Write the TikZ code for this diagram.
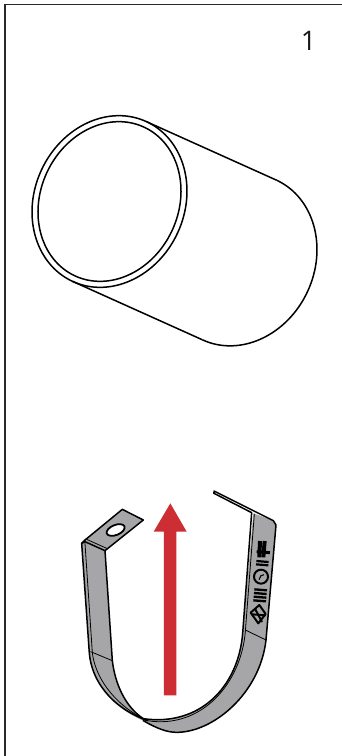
\documentclass[tikz,border=0pt]{standalone}
\usepackage{fontspec}
\setmainfont{Open Sans}
\definecolor{strapgray}{RGB}{166,166,168}
\definecolor{arrowred}{RGB}{204,46,52}
\definecolor{framegray}{RGB}{40,40,40}
\tikzset{
  pipeline/.style={draw=black,line width=1.5pt},
  strapline/.style={draw=black,line width=1.5pt,line join=round,line cap=round},
  thinline/.style={draw=black,line width=.8pt,line join=round,line cap=round},
  markline/.style={draw=black,line cap=butt},
  zoomed/.style={x=0.33333pt,y=-0.33333pt}
}
\begin{document}
\begin{tikzpicture}[x=1pt,y=-1pt]
\useasboundingbox (0,0) rectangle (342,756);
% frame
\draw[framegray,line width=1.9pt] (5.2,756) -- (5.2,4.5) -- (342,4.5);
\node[font=\fontsize{27}{27}\selectfont,text=black!90,inner sep=0pt] (num) at (308.5,41) {1};
% pipe: both ellipses share the same axes, so the side lines meet them on their major axis
\begin{scope}[shift={(239.5,260)},rotate=65]
\coordinate (pc) at (88pt,0pt);
\coordinate (pd) at (-88pt,0pt);
\draw[pipeline] (pc) arc[start angle=0,end angle=-180,x radius=88pt,y radius=75pt];
\end{scope}
\begin{scope}[shift={(109.5,201.5)},rotate=65]
\coordinate (pa) at (88pt,0pt);
\coordinate (pb) at (-88pt,0pt);
\draw[pipeline] (0pt,0pt) ellipse[x radius=88pt,y radius=75pt];
\draw[pipeline] (0pt,0pt) ellipse[x radius=82pt,y radius=69pt];
\end{scope}
\draw[pipeline] (pa) -- (pc);
\draw[pipeline] (pb) -- (pd);
% clamp
\begin{scope}[shift={(60,480)},zoomed]
% silhouette
\fill[strapgray] (187,88) -- (250,120) -- (135,212) -- (157,542)
  .. controls (165,610) and (195,680) .. (250,716)
  .. controls (420,740) and (535,620) .. (548,460)
  -- (580,100) -- (640,122) -- (648,135) -- (618,480)
  .. controls (600,640) and (460,757) .. (350,757)
  .. controls (320,757) and (290,745) .. (250,722)
  .. controls (150,680) and (95,600) .. (88,520)
  -- (65,190) -- (75,180) -- cycle;
% hole
\begin{scope}[shift={(167,150)},rotate=22]
\draw[fill=white,line width=1.8pt] (0pt,0pt) ellipse[x radius=9.5pt,y radius=5pt];
\end{scope}
% tab outline
\draw[strapline] (65,190) -- (75,180) -- (187,88) -- (250,120) -- (135,212) -- (75,185) -- (65,190);
\draw[thinline] (80,178) -- (140,205);
% left strap
\draw[strapline] (65,190) -- (88,520) .. controls (95,600) and (150,680) .. (262,722);
\draw[thinline] (75,190) -- (97,518) .. controls (105,590) and (160,670) .. (250,716);
\draw[strapline] (135,212) -- (157,542) .. controls (165,610) and (195,680) .. (250,716);
\draw[thinline] (92,515) -- (157,542);
% bottom and outer edge
\draw[strapline] (250,722) .. controls (290,745) and (320,757) .. (350,757)
  .. controls (460,757) and (600,640) .. (618,480) -- (648,135) -- (640,122) -- (462,33);
% right inner double edge
\draw[strapline] (462,40) -- (575,98) -- (548,460)
  .. controls (535,620) and (420,740) .. (250,716);
\draw[thinline] (583,102) -- (556,455)
  .. controls (543,610) and (425,748) .. (262,722);
\draw[strapline] (462,36) -- (462,40);
\draw[thinline] (556,450) -- (618,480);
% markings on the right strap
\draw[markline,line width=4pt] (600,183) -- (598,232);
\draw[markline,line width=4pt] (614,183) -- (610,232);
\draw[markline,line width=3pt] (590,215) -- (630,218);
\draw[markline,line width=2.2pt] (589,243) -- (626,246);
\draw[markline,line width=2.2pt] (588,253) -- (625,256);
\begin{scope}[shift={(603,290)}]
\draw[line width=2pt] (0pt,0pt) circle[radius=7pt];
\draw[line width=1.1pt] (-2pt,-3pt) -- (0pt,1pt) -- (3pt,2pt);
\end{scope}
\draw[markline,line width=2.3pt] (583,328) -- (621,331);
\draw[markline,line width=2.3pt] (582,339) -- (620,342);
\draw[markline,line width=2.3pt] (581,350) -- (619,353);
\draw[markline,line width=2.3pt] (580,361) -- (618,364);
\draw[line width=2pt,line join=round] (572,398) -- (598,375) -- (617,402) -- (595,430) -- cycle;
\draw[markline,line width=2pt] (585,386) -- (606,426);
\draw[markline,line width=2pt] (577,403) -- (616,406);
% arrow
\fill[arrowred] (312,646) -- (349,646) -- (349,155) -- (380,155) -- (331,70) -- (281,155) -- (312,155) -- cycle;
\end{scope}
\end{tikzpicture}
\end{document}
